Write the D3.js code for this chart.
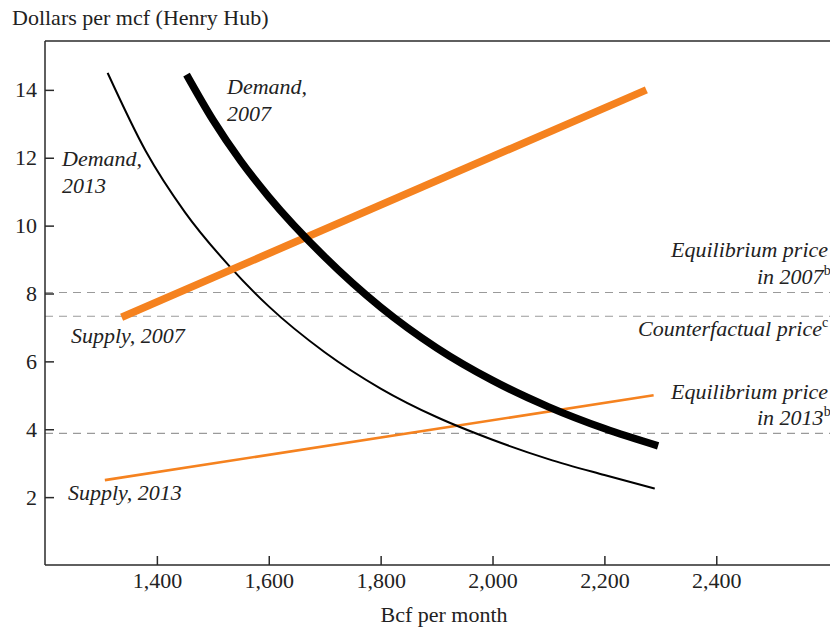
<!DOCTYPE html>
<html>
<head>
<meta charset="utf-8">
<script src="https://cdn.jsdelivr.net/npm/d3@7"></script>
<style>
  body { margin: 0; background: #fff; }
  text { font-family: "Liberation Serif", "Times New Roman", serif; fill: #222; }
</style>
</head>
<body>
<div id="chart"></div>
<script>
// values
const xTicks = [1400, 1600, 1800, 2000, 2200, 2400];
const yTicks = [2, 4, 6, 8, 10, 12, 14];

// [Bcf per month, dollars per mcf]
const demand2013 = [[1312, 14.5], [1380, 12.2], [1450, 10.4], [1530, 8.8], [1600, 7.62], [1700, 6.27],
                    [1800, 5.2], [1900, 4.36], [2000, 3.69], [2100, 3.12], [2200, 2.65], [2290, 2.25]];
const demand2007 = [[1453, 14.45], [1500, 13.12], [1550, 11.9], [1600, 10.85], [1700, 9.08], [1800, 7.6],
                    [1900, 6.4], [2000, 5.44], [2100, 4.66], [2200, 4.02], [2296, 3.51]];
const supply2007 = [[1337, 7.3], [2275, 14.0]];
const supply2013 = [[1307, 2.5], [2288, 5.0]];

const priceLevels = [8.03, 7.33, 3.88]; // equilibrium 2007, counterfactual, equilibrium 2013

let width = 830, height = 628;
let margin = {top: 41, right: 0, bottom: 63, left: 45};

let svg = d3.select("#chart").append("svg")
    .attr("width", width)
    .attr("height", height);

let x = d3.scaleLinear().domain([1200, 2600]).range([margin.left, 45 + 1400 * 0.5594]);
let y = d3.scaleLinear().domain([0, 15.44]).range([height - margin.bottom, margin.top]);

let axisColor = "#2a2a2a";

// frame: top line
svg.append("line")
    .attr("x1", margin.left).attr("x2", width)
    .attr("y1", margin.top).attr("y2", margin.top)
    .attr("stroke", axisColor).attr("stroke-width", 1.5);

// dashed price lines
svg.selectAll(".price")
    .data(priceLevels)
    .enter().append("line")
    .attr("x1", margin.left).attr("x2", width)
    .attr("y1", d => y(d)).attr("y2", d => y(d))
    .attr("stroke", "#9a9a9a")
    .attr("stroke-width", 1.2)
    .attr("stroke-dasharray", "8,6");

// x axis (ticks pointing inwards)
let xAxis = svg.append("g")
    .attr("transform", "translate(0," + y(0) + ")")
    .call(d3.axisBottom(x).tickValues(xTicks).tickSizeInner(-9).tickSizeOuter(0).tickPadding(7)
        .tickFormat(d3.format(",")));
xAxis.select(".domain").attr("d", `M${margin.left},0H${width}`);

// y axis
let yAxis = svg.append("g")
    .attr("transform", "translate(" + margin.left + ",0)")
    .call(d3.axisLeft(y).tickValues(yTicks).tickSizeInner(-9).tickSizeOuter(0).tickPadding(8));
yAxis.select(".domain").attr("d", `M0,${margin.top}V${y(0)}`);

svg.selectAll(".tick text")
    .style("font-family", "Liberation Serif, serif")
    .style("font-size", "22px")
    .attr("fill", "#222");
svg.selectAll(".domain, .tick line").attr("stroke", axisColor).attr("stroke-width", 1.5);

// axis titles
svg.append("text")
    .attr("x", 12).attr("y", 25)
    .style("font-size", "22px")
    .text("Dollars per mcf (Henry Hub)");

svg.append("text")
    .attr("x", 444).attr("y", 622)
    .attr("text-anchor", "middle")
    .style("font-size", "22px")
    .text("Bcf per month");

// curves
let line = d3.line().x(d => x(d[0])).y(d => y(d[1])).curve(d3.curveMonotoneX);
let orange = "#f5821f";

let series = [
    {data: supply2013, color: orange, w: 2.6},
    {data: demand2013, color: "#000", w: 2},
    {data: supply2007, color: orange, w: 7.5},
    {data: demand2007, color: "#000", w: 7.5}
];

svg.selectAll(".curve")
    .data(series)
    .enter().append("path")
    .attr("fill", "none")
    .attr("stroke", d => d.color)
    .attr("stroke-width", d => d.w)
    .attr("d", d => line(d.data));

// italic labels
function label(lines, xPos, yPos) {
    let t = svg.append("text")
        .attr("x", xPos).attr("y", yPos)
        .style("font-size", "22px")
        .style("font-style", "italic");
    lines.forEach((l, i) => {
        let ts = t.append("tspan").attr("x", xPos).attr("dy", i === 0 ? 0 : 27);
        ts.text(l[0]);
        if (l[1]) {
            t.append("tspan").attr("dy", -9).style("font-size", "14px").style("font-style", "normal").text(l[1]);
        }
    });
}

label([["Demand,"], ["2007"]], 227, 94);
label([["Demand,"], ["2013"]], 62, 166);
label([["Supply, 2007"]], 71, 343);
label([["Supply, 2013"]], 68, 500);
label([["Equilibrium price"]], 671, 257);
label([["in 2007", "b"]], 757, 284);
label([["Counterfactual price", "c"]], 638, 336);
label([["Equilibrium price"]], 671, 399);
label([["in 2013", "b"]], 757, 425);
</script>
</body>
</html>
